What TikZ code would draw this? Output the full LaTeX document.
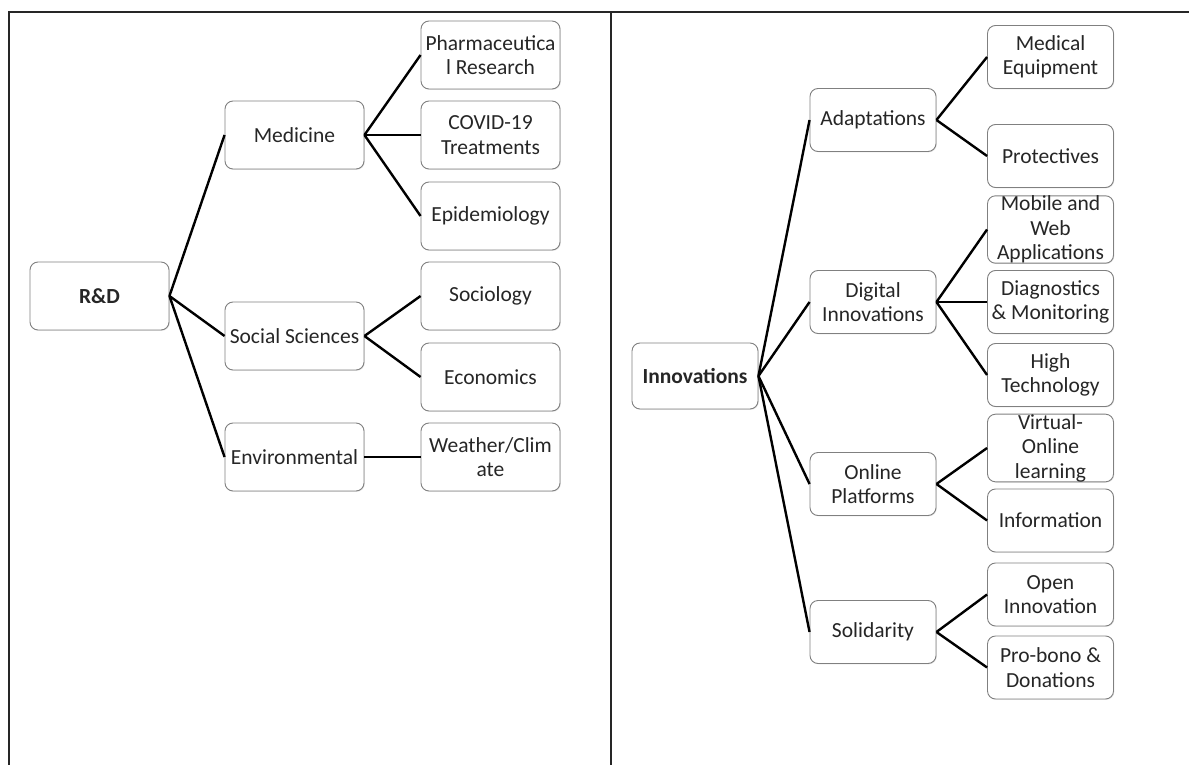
\documentclass[tikz,border=0pt]{standalone}
\usepackage{fontspec}
\setmainfont{Carlito}
\usetikzlibrary{shadows}
\tikzset{
  box/.style={draw=black!50, line width=0.9pt, rounded corners=8pt, fill=white,
    align=center, inner sep=0pt, font=\fontsize{21.5}{24.5}\selectfont, text=black!85,
    drop shadow={opacity=0.2, shadow xshift=0.8pt, shadow yshift=-0.8pt}},
  lbox/.style={box, minimum width=139pt, minimum height=68pt},
  rbox/.style={box, minimum width=126pt, minimum height=63pt},
  link/.style={line width=2.4pt, black},
  frame/.style={line width=2pt, black!85}
}
\begin{document}
\begin{tikzpicture}[x=1pt,y=-1pt]
\useasboundingbox (0,0) rectangle (1189,765);
% frame
\draw[frame] (9,765) -- (9,12) -- (1189,12);
\draw[frame] (611,12) -- (611,765);

% left tree
\node[lbox] (rd) at (99.5,296) {\textbf{R\&D}};
\node[lbox] (med) at (294.5,135) {Medicine};
\node[lbox] (soc) at (294.5,336) {Social Sciences};
\node[lbox] (env) at (294.5,457) {Environmental};
\node[lbox] (pha) at (490.5,55) {Pharmaceutica\\l Research};
\node[lbox] (cov) at (490.5,135) {COVID-19\\Treatments};
\node[lbox] (epi) at (490.5,216) {Epidemiology};
\node[lbox] (sco) at (490.5,296) {Sociology};
\node[lbox] (eco) at (490.5,377) {Economics};
\node[lbox] (wea) at (490.5,457) {Weather/Clim\\ate};

\draw[link] (rd.east) -- (med.west);
\draw[link] (rd.east) -- (soc.west);
\draw[link] (rd.east) -- (env.west);
\draw[link] (med.east) -- (pha.west);
\draw[link] (med.east) -- (cov.west);
\draw[link] (med.east) -- (epi.west);
\draw[link] (soc.east) -- (sco.west);
\draw[link] (soc.east) -- (eco.west);
\draw[link] (env.east) -- (wea.west);

% right tree
\node[rbox, minimum height=66pt] (inn) at (695,376) {\textbf{Innovations}};
\node[rbox] (ada) at (873,120) {Adaptations};
\node[rbox] (dig) at (873,302) {Digital\\Innovations};
\node[rbox] (onl) at (873,484) {Online\\Platforms};
\node[rbox] (sol) at (873,632) {Solidarity};
\node[rbox] (meq) at (1050.5,57) {Medical\\Equipment};
\node[rbox] (pro) at (1050.5,156) {Protectives};
\node[rbox] (mob) at (1050.5,229.5) {Mobile and\\Web\\Applications};
\node[rbox] (dia) at (1050.5,302) {Diagnostics\\\& Monitoring};
\node[rbox] (hig) at (1050.5,375) {High\\Technology};
\node[rbox] (vir) at (1050.5,448) {Virtual-\\Online\\learning};
\node[rbox] (inf) at (1050.5,520.5) {Information};
\node[rbox] (opn) at (1050.5,594.5) {Open\\Innovation};
\node[rbox] (pbo) at (1050.5,667.5) {Pro-bono \&\\Donations};

\draw[link] (inn.east) -- (ada.west);
\draw[link] (inn.east) -- (dig.west);
\draw[link] (inn.east) -- (onl.west);
\draw[link] (inn.east) -- (sol.west);
\draw[link] (ada.east) -- (meq.west);
\draw[link] (ada.east) -- (pro.west);
\draw[link] (dig.east) -- (mob.west);
\draw[link] (dig.east) -- (dia.west);
\draw[link] (dig.east) -- (hig.west);
\draw[link] (onl.east) -- (vir.west);
\draw[link] (onl.east) -- (inf.west);
\draw[link] (sol.east) -- (opn.west);
\draw[link] (sol.east) -- (pbo.west);
\end{tikzpicture}
\end{document}
